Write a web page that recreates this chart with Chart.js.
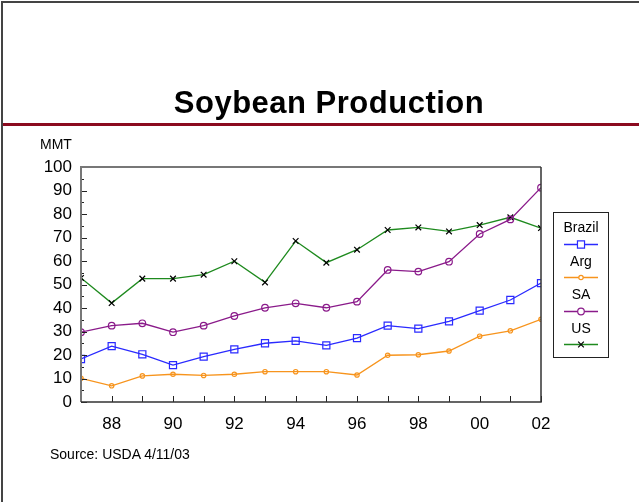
<!DOCTYPE html>
<html>
<head>
<meta charset="utf-8">
<script src="https://cdn.jsdelivr.net/npm/chart.js@4.4.1/dist/chart.umd.min.js"></script>
<style>
  html, body { margin: 0; padding: 0; background: #fff; }
  #page { position: relative; width: 639px; height: 502px; overflow: hidden; font-family: "Liberation Sans", Arial, sans-serif; }
  #frameTop { position: absolute; left: 1px; top: 1px; width: 640px; height: 2px; background: #444; }
  #frameLeft { position: absolute; left: 1px; top: 1px; width: 2px; height: 510px; background: #444; }
  #rule { position: absolute; left: 3px; top: 123px; width: 640px; height: 3px; background: #8b0a1f; }
  #title { position: absolute; left: 0; width: 658px; top: 85px; text-align: center; font-weight: bold; font-size: 31px; letter-spacing: 0.5px; color: #000; }
  #unit { position: absolute; left: 40px; top: 136px; font-size: 14px; color: #000; }
  #source { position: absolute; left: 50px; top: 446px; font-size: 14px; color: #000; }
  canvas { position: absolute; left: 0; top: 0; }
</style>
</head>
<body>
<div id="page">
  <canvas id="chart" width="639" height="502"></canvas>
  <div id="frameTop"></div>
  <div id="frameLeft"></div>
  <div id="rule"></div>
  <div id="title">Soybean Production</div>
  <div id="unit">MMT</div>
  <div id="source">Source: USDA 4/11/03</div>
</div>
<script>
// ---- Data (MMT) ----
const years = [1987, 1988, 1989, 1990, 1991, 1992, 1993, 1994, 1995, 1996, 1997, 1998, 1999, 2000, 2001, 2002];
const brazil = [18.3, 23.8, 20.3, 15.7, 19.3, 22.4, 25.0, 26.0, 24.1, 27.2, 32.5, 31.2, 34.3, 38.9, 43.4, 50.6];
const arg = [10.1, 6.9, 11.1, 11.8, 11.3, 11.8, 12.9, 12.9, 12.9, 11.5, 19.9, 20.1, 21.7, 28.0, 30.3, 35.2];
const sa = [29.7, 32.5, 33.5, 29.7, 32.5, 36.6, 40.1, 42.0, 40.1, 42.7, 56.2, 55.5, 59.7, 71.5, 77.7, 91.2];
const us = [52.8, 42.1, 52.5, 52.5, 54.2, 59.9, 50.9, 68.5, 59.3, 64.8, 73.2, 74.3, 72.6, 75.3, 78.6, 74.0];
const seriesNames = ["Brazil", "Arg", "SA", "US"];
const yMin = 0, yMax = 100, yStep = 10;

const FONT = '"Liberation Sans", Arial, sans-serif';
const toXY = (vals) => vals.map((v, i) => ({ x: years[i], y: v }));

// axes box + inward tick marks, drawn like the old Excel plot
const frameAxes = {
  id: "frameAxes",
  afterDatasetsDraw(chart) {
    const { ctx, chartArea: a, scales: { x, y } } = chart;
    ctx.save();
    ctx.lineWidth = 1;
    ctx.strokeStyle = "#222";
    years.forEach((yr) => {
      const px = Math.round(x.getPixelForValue(yr)) + 0.5;
      ctx.beginPath(); ctx.moveTo(px, a.bottom); ctx.lineTo(px, a.bottom - 6); ctx.stroke();
    });
    for (let v = yMin; v <= yMax; v += yStep / 2) {
      const py = Math.round(y.getPixelForValue(v)) + 0.5;
      const len = v % yStep === 0 ? 6 : 3;
      ctx.beginPath(); ctx.moveTo(a.left, py); ctx.lineTo(a.left + len, py); ctx.stroke();
    }
    ctx.lineWidth = 2;
    ctx.strokeStyle = "#777";
    ctx.beginPath(); ctx.moveTo(a.left, a.bottom); ctx.lineTo(a.left, a.top); ctx.lineTo(a.right, a.top); ctx.stroke();
    ctx.strokeStyle = "#333";
    ctx.lineWidth = 1.5;
    ctx.beginPath(); ctx.moveTo(a.left, a.bottom); ctx.lineTo(a.right, a.bottom); ctx.lineTo(a.right, a.top); ctx.stroke();
    ctx.restore();
  },
};

// legend: name above a short line with the marker, all in one box
const boxLegend = {
  id: "boxLegend",
  afterDraw(chart) {
    const { ctx } = chart;
    const bx = 553.5, by = 212.5, bw = 55, bh = 145;
    ctx.save();
    ctx.fillStyle = "#fff";
    ctx.fillRect(bx, by, bw, bh);
    ctx.strokeStyle = "#222";
    ctx.lineWidth = 1;
    ctx.strokeRect(bx, by, bw, bh);
    ctx.textAlign = "center";
    ctx.textBaseline = "middle";
    ctx.font = `14px ${FONT}`;
    chart.data.datasets.forEach((ds, i) => {
      const cy = by + 16 + i * 33.5;
      const cx = bx + bw / 2;
      ctx.fillStyle = "#000";
      ctx.fillText(ds.label, cx, cy);
      const ly = Math.round(cy + 15) + 0.5;
      ctx.strokeStyle = ds.borderColor;
      ctx.lineWidth = 1.3;
      ctx.beginPath(); ctx.moveTo(cx - 17, ly); ctx.lineTo(cx + 17, ly); ctx.stroke();
      ctx.strokeStyle = ds.pointBorderColor;
      ctx.fillStyle = "#fff";
      ctx.lineWidth = 1.2;
      Chart.helpers.drawPoint(ctx, { pointStyle: ds.pointStyle, radius: ds.pointRadius, borderWidth: 1.2 }, cx, ly);
    });
    ctx.restore();
  },
};

function line(label, data, color, style, radius, pointColor) {
  return {
    label, data: toXY(data),
    borderColor: color, borderWidth: 1.3,
    pointStyle: style, pointRadius: radius,
    pointBorderColor: pointColor || color, pointBackgroundColor: "rgba(255,255,255,0)",
    pointBorderWidth: 1.2, tension: 0,
  };
}

new Chart(document.getElementById("chart"), {
  type: "line",
  data: {
    datasets: [
      line(seriesNames[0], brazil, "#2a2aff", "rect", 5),
      line(seriesNames[1], arg, "#f7941d", "circle", 2.2),
      line(seriesNames[2], sa, "#8a1a8a", "circle", 3.3),
      line(seriesNames[3], us, "#1e8a1e", "crossRot", 4, "#000"),
    ],
  },
  options: {
    responsive: false, animation: false,
    layout: { padding: { left: 0, top: 167, right: 98, bottom: 0 } },
    plugins: { legend: { display: false }, title: { display: false }, tooltip: { enabled: false } },
    scales: {
      x: {
        type: "linear", min: years[0], max: years[years.length - 1],
        grid: { display: false }, border: { display: false },
        afterFit: (s) => { s.height = 100; },
        ticks: {
          stepSize: 1, autoSkip: false, maxRotation: 0, padding: 4,
          color: "#000", font: { family: FONT, size: 17 },
          callback: (v) => (v % 2 === 0 ? String(v % 100).padStart(2, "0") : ""),
        },
      },
      y: {
        min: yMin, max: yMax,
        grid: { display: false }, border: { display: false },
        afterFit: (s) => { s.width = 81; },
        ticks: { stepSize: yStep, padding: 1, color: "#000", font: { family: FONT, size: 17 } },
      },
    },
  },
  plugins: [frameAxes, boxLegend],
});
</script>
</body>
</html>
